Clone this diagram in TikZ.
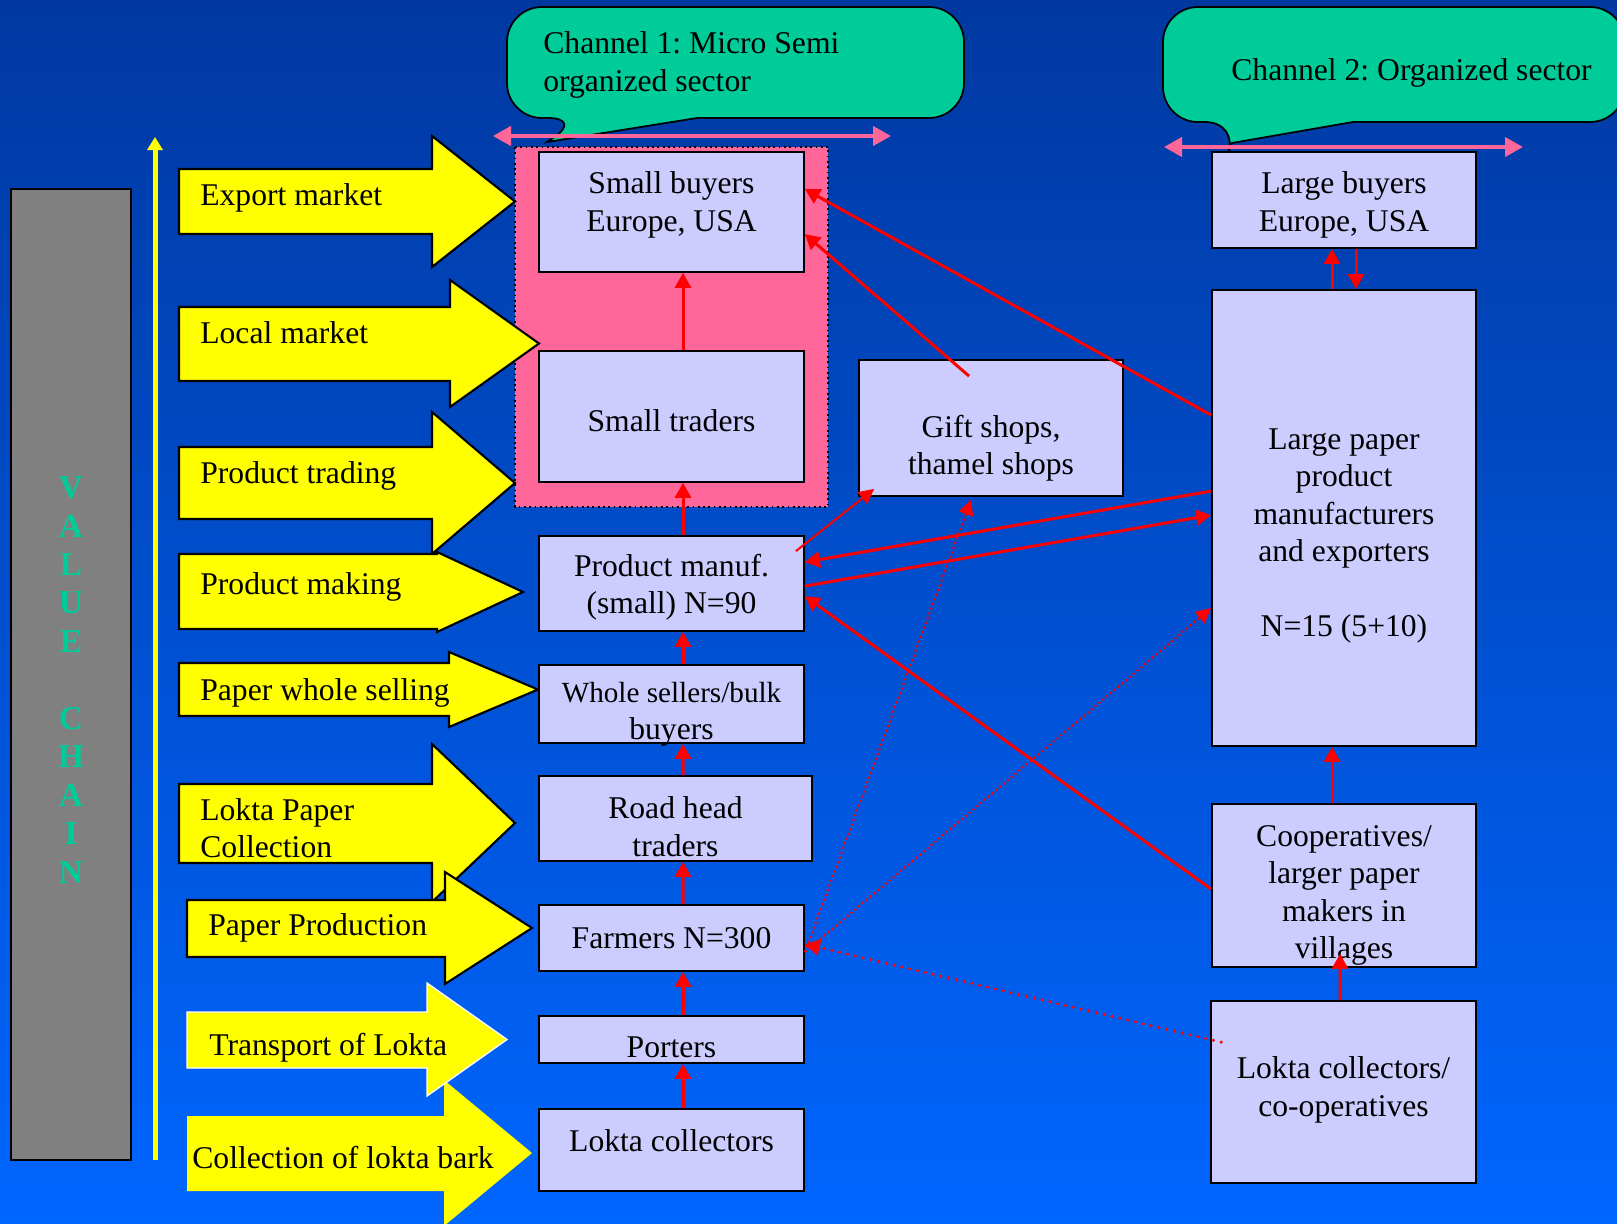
\documentclass[tikz,border=0pt]{standalone}
\usepackage{fontspec}
\setmainfont{Liberation Serif}
\usetikzlibrary{arrows.meta}
\frenchspacing

\definecolor{bgtop}{RGB}{0,56,160}
\definecolor{bgbot}{RGB}{0,102,255}
\definecolor{chainyellow}{RGB}{255,255,0}
\definecolor{sectorpink}{RGB}{255,102,153}
\definecolor{boxlilac}{RGB}{204,204,255}
\definecolor{calloutgreen}{RGB}{0,204,153}
\definecolor{bargray}{RGB}{128,128,128}

\tikzset{
  txt/.style={font=\fontsize{18}{21.3}\selectfont, inner sep=0pt},
  box/.style={draw=black, fill=boxlilac, line width=1pt, inner sep=0pt},
  boxtext/.style={txt, align=center},
  stagearrow/.style={draw=black, fill=chainyellow, line width=1.2pt, line join=miter},
  callout/.style={draw=black, fill=calloutgreen, line width=1pt},
  chanspan/.style={sectorpink, line width=0.08cm,
    {Triangle[length=0.36cm,width=0.38cm]}-{Triangle[length=0.36cm,width=0.38cm]}},
  flow/.style={red, line width=0.06cm, -{Triangle[length=0.3cm,width=0.32cm]}},
  thinflow/.style={red, line width=0.04cm, -{Triangle[length=0.3cm,width=0.3cm]}},
  dotflow/.style={red, line width=0.04cm, dash pattern=on 0.04cm off 0.06cm,
    -{Triangle[length=0.3cm,width=0.3cm]}},
  bigdotflow/.style={red, line width=0.07cm, line cap=round, dash pattern=on 0pt off 0.16cm,
    -{Triangle[length=0.3cm,width=0.32cm]}},
}

% yellow stage arrow: left, body top, body bottom, head base, head top, head bottom, tip
\newcommand{\stage}[8][]{%
  \draw[stagearrow,#1] (#2,#3) -- (#5,#3) -- (#5,#6) -- (#8,{(#6+#7)/2})
    -- (#5,#7) -- (#5,#4) -- (#2,#4) -- cycle;}

% box: name, x1, y1, x2, y2, text shift, text
\newcommand{\valuebox}[7]{%
  \node[box, minimum width={(#4-#2)*0.02cm}, minimum height={(#5-#3)*0.02cm}]
    (#1) at ({(#2+#4)/2},{(#3+#5)/2}) {};
  \node[boxtext] (#1-txt) at ([yshift=#6]#1.center) {#7};}

\begin{document}
\begin{tikzpicture}[x=0.02cm,y=-0.02cm]
  \useasboundingbox (0,0) rectangle (1617,1224);
  \shade[top color=bgtop, bottom color=bgbot] (0,0) rectangle (1617,1224);

  % value chain bar
  \draw[fill=bargray, line width=1pt] (11,189) rectangle (131,1160);
  \node[font=\fontsize{19}{21.9}\selectfont\bfseries, text=calloutgreen, align=center, inner sep=0pt]
    (chain) at (71,680) {V\\A\\L\\U\\E\\[21.9pt]C\\H\\A\\I\\N};
  \draw[chainyellow, line width=0.1cm, -{Triangle[length=0.26cm,width=0.3cm]}] (155,1160) -- (155,137);

  % channel 1 area
  \draw[fill=sectorpink, dotted, line width=1pt] (515,147) rectangle (828,507);

  % stages
  \stage{179}{169}{234}{432}{136}{267}{515}
  \stage{179}{307}{381}{450}{280}{407}{539}
  \stage{179}{447}{519}{432}{412}{554}{515}
  \stage{179}{554}{629}{437}{552}{632}{523}
  \stage{179}{663}{716}{449}{652}{727}{538}
  \stage{179}{784}{863}{432}{744}{902}{515}
  \stage{187}{900}{957}{445}{872}{984}{532}
  \stage[draw=none]{187}{1116}{1191}{444}{1080}{1226}{532}
  \stage[draw=white, line width=0.8pt]{187}{1012}{1068}{427}{983}{1096}{507}

  \node[txt, anchor=base west] (lexport) at (200,205) {Export market};
  \node[txt, anchor=base west] (llocal) at (200,343) {Local market};
  \node[txt, anchor=base west] (ltrading) at (200,483) {Product trading};
  \node[txt, anchor=base west] (lmaking) at (200,594) {Product making};
  \node[txt, anchor=base west] (lwhole) at (200,700) {Paper whole selling};
  \node[txt, anchor=west, align=left] (lcollect) at (200,828) {Lokta Paper\\Collection};
  \node[txt, anchor=base west] (lprod) at (208,935) {Paper Production};
  \node[txt, anchor=base west] (ltransport) at (209,1055) {Transport of Lokta};
  \node[txt, anchor=base west] (lbark) at (192,1168) {Collection of lokta bark};

  % callouts
  \draw[callout, rounded corners=0.7cm] (583,118) [sharp corners] -- (547,142) -- (697,118)
    [rounded corners=0.7cm] -- (964,118) -- (964,7) -- (507,7) -- (507,118) -- cycle;
  \draw[callout, rounded corners=0.7cm] (1240,122) [sharp corners] -- (1232,143) -- (1353,122)
    [rounded corners=0.7cm] -- (1625,122) -- (1625,7) -- (1163,7) -- (1163,122) -- cycle;
  \node[txt, anchor=west, align=left] (ch1txt) at (543,65) {Channel 1: Micro Semi\\organized sector};
  \node[txt, anchor=west] (ch2txt) at (1231,73) {Channel 2: Organized sector};

  \coordinate (ch1l) at (493,136);
  \coordinate (ch1r) at (891,136);
  \coordinate (ch2l) at (1164,147);
  \coordinate (ch2r) at (1523,147);
  \draw[chanspan] (ch1l) -- (ch1r);
  \draw[chanspan] (ch2l) -- (ch2r);

  % boxes
  \valuebox{buyers}{539}{152}{804}{272}{0.14cm}{Small buyers\\Europe, USA}
  \valuebox{traders}{539}{351}{804}{482}{-0.08cm}{Small traders}
  \valuebox{manuf}{539}{536}{804}{631}{-0.08cm}{Product manuf.\\(small) N=90}
  \valuebox{whole}{539}{665}{804}{743}{-0.2cm}{\fontsize{16.6}{19.6}\selectfont Whole sellers/bulk\\buyers}
  \valuebox{road}{539}{776}{812}{861}{-0.16cm}{Road head\\traders}
  \valuebox{farmers}{539}{905}{804}{971}{0cm}{Farmers N=300}
  \valuebox{porters}{539}{1016}{804}{1063}{-0.16cm}{Porters}
  \valuebox{collectors}{539}{1109}{804}{1191}{0.18cm}{Lokta collectors}
  \valuebox{gift}{859}{360}{1123}{496}{-0.4cm}{Gift shops,\\thamel shops}
  \valuebox{lbuyers}{1212}{152}{1476}{248}{-0.1cm}{Large buyers\\Europe, USA}
  \valuebox{lpaper}{1212}{290}{1476}{746}{-0.36cm}{Large paper\\product\\manufacturers\\and exporters\\[21.3pt]N=15 (5+10)}
  \valuebox{coops}{1212}{804}{1476}{967}{-0.2cm}{Cooperatives/\\larger paper\\makers in\\villages}
  \valuebox{lcoops}{1211}{1001}{1476}{1183}{0.04cm}{Lokta collectors/\\co-operatives}

  % channel 1 chain
  \draw[flow] ([xshift=0.23cm]traders.north) -- ([xshift=0.23cm]buyers.south);
  \draw[flow] ([xshift=0.23cm]manuf.north) -- ([xshift=0.23cm]traders.south);
  \draw[flow] ([xshift=0.23cm]whole.north) -- ([xshift=0.23cm]manuf.south);
  \draw[flow] ([xshift=0.15cm]road.north) -- ([xshift=0.23cm]whole.south);
  \draw[flow] ([xshift=0.23cm]farmers.north) -- ([xshift=0.15cm]road.south);
  \draw[flow] ([xshift=0.23cm]porters.north) -- ([xshift=0.23cm]farmers.south);
  \draw[flow] ([xshift=0.23cm]collectors.north) -- ([xshift=0.23cm]porters.south);

  % channel 2 chain
  \draw[flow] ([xshift=-0.24cm]lpaper.north) -- ([xshift=-0.24cm]lbuyers.south);
  \draw[flow] ([xshift=0.24cm]lbuyers.south) -- ([xshift=0.24cm]lpaper.north);
  \draw[flow] ([xshift=-0.24cm]coops.north) -- ([xshift=-0.24cm]lpaper.south);
  \draw[flow] ([xshift=-0.07cm]lcoops.north) -- ([xshift=-0.08cm,yshift=0.28cm]coops.south);

  % cross links
  \draw[flow] ([yshift=-2.52cm]lpaper.north west) -- ([yshift=-0.76cm]buyers.north east);
  \draw[flow] ([xshift=2.22cm,yshift=-0.34cm]gift.north west) -- ([yshift=-1.66cm]buyers.north east);
  \draw[thinflow] ([xshift=-0.18cm,yshift=-0.32cm]manuf.north east) -- ([xshift=0.32cm,yshift=0.16cm]gift.south west);
  \draw[flow] ([yshift=-4.04cm]lpaper.north west) -- ([yshift=-0.54cm]manuf.north east);
  \draw[flow] ([yshift=-1.02cm]manuf.north east) -- ([yshift=-4.52cm]lpaper.north west);
  \draw[flow] ([yshift=-1.72cm]coops.north west) -- ([yshift=-1.22cm]manuf.north east);
  \draw[dotflow] ([yshift=-0.96cm]farmers.north east) -- ([xshift=2.26cm,yshift=-0.06cm]gift.south west);
  \draw[dotflow] ([yshift=-0.96cm]farmers.north east) -- ([yshift=-6.38cm]lpaper.north west);
  \draw[bigdotflow] ([xshift=0.22cm,yshift=-0.84cm]lcoops.north west) -- ([yshift=-0.8cm]farmers.north east);
\end{tikzpicture}
\end{document}
